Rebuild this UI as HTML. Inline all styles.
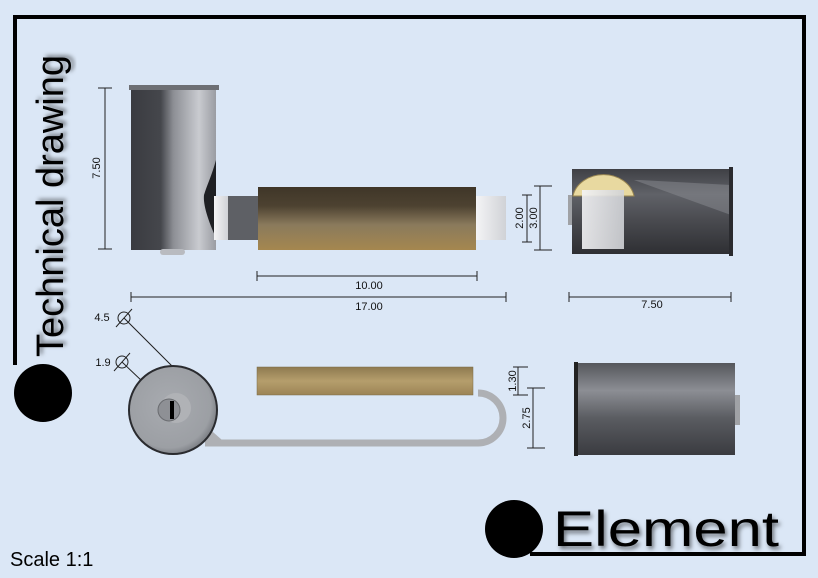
<!DOCTYPE html>
<html><head><meta charset="utf-8"><style>
html,body{margin:0;padding:0;background:#dbe7f6;}
svg{display:block;font-family:"Liberation Sans",sans-serif;}
</style></head><body>
<svg width="818" height="578" viewBox="0 0 818 578" xmlns="http://www.w3.org/2000/svg">
<defs>
<linearGradient id="cyl" x1="0" x2="1" y1="0" y2="0">
<stop offset="0" stop-color="#3a3b40"/><stop offset="0.35" stop-color="#45474c"/><stop offset="0.5" stop-color="#8d8f95"/><stop offset="0.8" stop-color="#c9cbd0"/><stop offset="1" stop-color="#9a9ca2"/></linearGradient>
<linearGradient id="wood" x1="0" x2="0" y1="0" y2="1">
<stop offset="0" stop-color="#3f3628"/><stop offset="0.3" stop-color="#4d4231"/><stop offset="0.6" stop-color="#8a7a5c"/><stop offset="1" stop-color="#a5874f"/></linearGradient>
<linearGradient id="wood2" x1="0" x2="0" y1="0" y2="1">
<stop offset="0" stop-color="#8e7a50"/><stop offset="0.5" stop-color="#b59e6c"/><stop offset="1" stop-color="#9c8456"/></linearGradient>
<linearGradient id="white" x1="0" x2="1" y1="0" y2="0">
<stop offset="0" stop-color="#f4f4f6"/><stop offset="1" stop-color="#d0d2d6"/></linearGradient>
<linearGradient id="dark" x1="0" x2="0" y1="0" y2="1">
<stop offset="0" stop-color="#3f4045"/><stop offset="0.3" stop-color="#606268"/><stop offset="0.6" stop-color="#4a4b50"/><stop offset="1" stop-color="#2e2f33"/></linearGradient>
<linearGradient id="rcyl" x1="0" x2="0" y1="0" y2="1">
<stop offset="0" stop-color="#55575c"/><stop offset="0.3" stop-color="#8c8e94"/><stop offset="0.6" stop-color="#5a5c61"/><stop offset="1" stop-color="#3a3b40"/></linearGradient>
<radialGradient id="disk" cx="0.45" cy="0.45" r="0.6">
<stop offset="0" stop-color="#a8abb0"/><stop offset="0.8" stop-color="#9c9fa4"/><stop offset="1" stop-color="#6f7278"/></radialGradient>
<filter id="sh"><feDropShadow dx="2" dy="3" stdDeviation="2" flood-color="#000" flood-opacity="0.5"/></filter>
</defs>

<path d="M15 365 V17 H804 V554 H530" fill="none" stroke="#000" stroke-width="4"/>
<circle cx="43" cy="393" r="29" fill="#000"/>
<circle cx="514" cy="529" r="29" fill="#000"/>
<text x="553" y="546" font-size="50" fill="#000" filter="url(#sh)" textLength="226" lengthAdjust="spacingAndGlyphs">Element</text>
<text transform="translate(63,357) rotate(-90)" font-size="38" fill="#000" filter="url(#sh)" textLength="302" lengthAdjust="spacingAndGlyphs">Technical drawing</text>
<text x="10" y="566" font-size="20" fill="#000">Scale 1:1</text>

<rect x="131" y="88" width="85" height="162" fill="url(#cyl)"/>
<rect x="129" y="85" width="90" height="5" fill="#6d6f74"/>
<path d="M216 160 C212 175 207 185 204 195 C203 205 208 220 216 238 Z" fill="#1e1f23"/>
<rect x="160" y="249" width="25" height="6" rx="3" fill="#b9bbc0"/>
<rect x="214" y="196" width="14" height="44" fill="url(#white)"/>
<rect x="228" y="196" width="30" height="44" fill="#5e6065"/>
<rect x="258" y="187" width="218" height="63" fill="url(#wood)"/>
<rect x="476" y="196" width="30" height="44" fill="url(#white)"/>

<g stroke="#222" stroke-width="1" fill="none">
<path d="M105 88 V249 M98 88 H112 M98 249 H112"/>
<path d="M257 276 H477 M257 271 V281 M477 271 V281"/>
<path d="M131 297 H506 M131 292 V302 M506 292 V302"/>
<path d="M527 195 V242 M522 195 H532 M522 242 H532"/>
<path d="M540 186 V250 M534 186 H552 M534 250 H552"/>
<path d="M569 297 H731 M569 292 V302 M731 292 V302"/>
<path d="M518 367 V395 M513 367 H528 M513 395 H528"/>
<path d="M533 388 V448 M527 388 H545 M527 448 H545"/>
<circle cx="124" cy="318" r="6"/><path d="M116 327 L132 309 M124 318 L172 366"/>
<circle cx="122" cy="362" r="6"/><path d="M114 371 L130 353 M122 362 L164 402"/>
</g>
<g font-size="11" fill="#111" text-anchor="middle">
<text transform="translate(100,168) rotate(-90)">7.50</text>
<text x="369" y="289">10.00</text>
<text x="369" y="310">17.00</text>
<text transform="translate(523,218) rotate(-90)">2.00</text>
<text transform="translate(537,218) rotate(-90)">3.00</text>
<text x="652" y="308">7.50</text>
<text transform="translate(516,381) rotate(-90)">1.30</text>
<text transform="translate(530,418) rotate(-90)">2.75</text>
<text x="102" y="321">4.5</text>
<text x="103" y="366">1.9</text>
</g>

<rect x="568" y="195" width="6" height="30" fill="#a0a2a6"/>
<rect x="572" y="169" width="159" height="85" fill="url(#dark)"/>
<path d="M634 180 L731 215 V185 L640 180 Z" fill="#8a8c92" opacity="0.5"/>
<rect x="729" y="167" width="4" height="89" fill="#2a2b2f"/>
<path d="M573 196 A31 26 0 0 1 634 196 Z" fill="#e8d9a0" stroke="#9a8752" stroke-width="1"/>
<rect x="582" y="190" width="42" height="59" fill="url(#white)" opacity="0.9"/>

<path d="M478 393 A25 25 0 0 1 478 443 H205" fill="none" stroke="#aeb0b4" stroke-width="7"/>
<path d="M205 425 L222 440 H205 Z" fill="#aeb0b4"/>
<rect x="257" y="367" width="216" height="28" fill="url(#wood2)" stroke="#7a6a48" stroke-width="0.5"/>
<circle cx="173" cy="410" r="44" fill="url(#disk)" stroke="#2a2b2f" stroke-width="2"/>
<circle cx="176" cy="408" r="15" fill="#b0b2b6"/>
<circle cx="169" cy="410" r="11" fill="#8e9095" stroke="#6a6c70"/>
<rect x="170" y="401" width="4" height="18" fill="#000"/>

<rect x="735" y="395" width="5" height="30" fill="#a0a2a6"/>
<rect x="575" y="363" width="160" height="92" fill="url(#rcyl)"/>
<rect x="574" y="362" width="4" height="94" fill="#222"/>
</svg>
</body></html>
